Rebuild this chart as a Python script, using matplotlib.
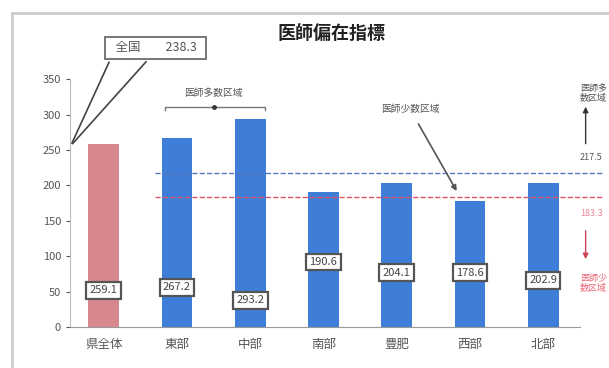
import numpy as np
import matplotlib.pyplot as plt

plt.rcParams["font.family"] = ["Noto Sans CJK JP", "DejaVu Sans"]

# ----------------------
# データ
# ----------------------
areas = ["県全体", "東部", "中部", "南部", "豊肥", "西部", "北部"]
values = [259.1, 267.2, 293.2, 190.6, 204.1, 178.6, 202.9]
label_y = [52, 56, 38, 92, 77, 77, 66]  # 数値ラベルの表示高さ
national = 238.3
upper_line = 217.5   # 医師多数区域の基準
lower_line = 183.3   # 医師少数区域の基準

bar_colors = ["#d9878e"] + ["#3f7ed8"] * (len(areas) - 1)

# ----------------------
# 描画
# ----------------------
fig = plt.figure(figsize=(6.09, 3.68), dpi=100)
ax = fig.add_axes([0.115, 0.111, 0.837, 0.674])

x = np.arange(len(areas))
ax.bar(x, values, width=0.42, color=bar_colors, zorder=2)

for xi, v, ly in zip(x, values, label_y):
    ax.text(xi, ly, f"{v:.1f}", ha="center", va="center", fontsize=8, color="#444444", zorder=4,
            bbox=dict(boxstyle="square,pad=0.3", fc="white", ec="#555555", lw=1.6))

ax.set_xlim(-0.46, 6.5)
ax.set_ylim(0, 350)
ax.set_yticks(np.arange(0, 351, 50))
ax.set_xticks(x)
ax.set_xticklabels(areas, fontsize=9, color="#555555")
ax.tick_params(axis="y", labelsize=8, colors="#555555", length=3)
ax.tick_params(axis="x", length=0, pad=8)
for s in ["top", "right"]:
    ax.spines[s].set_visible(False)
ax.spines["left"].set_color("#bbbbbb")
ax.spines["bottom"].set_color("#999999")

# 基準線
ax.plot([0.7, 6.8], [upper_line, upper_line], ls="--", color="#5577bb", lw=1, clip_on=False, zorder=3)
ax.plot([0.7, 6.8], [lower_line, lower_line], ls="--", color="#dd5566", lw=1, clip_on=False, zorder=3)

# 右側の注記
rx = 6.5
ax.text(rx, 330, "医師多\n数区域", fontsize=6.5, color="#555555", va="center", linespacing=1.1, clip_on=False)
ax.annotate("", xy=(rx + 0.08, 315), xytext=(rx + 0.08, 255),
            arrowprops=dict(arrowstyle="-|>", color="#333333", lw=1, mutation_scale=8), annotation_clip=False)
ax.text(rx, 239, f"{upper_line:.1f}", fontsize=6.5, color="#555555", va="center", clip_on=False)
ax.text(rx, 160, f"{lower_line:.1f}", fontsize=6.5, color="#ee8899", va="center", clip_on=False)
ax.annotate("", xy=(rx + 0.08, 92), xytext=(rx + 0.08, 140),
            arrowprops=dict(arrowstyle="-|>", color="#cc4455", lw=1, mutation_scale=8), annotation_clip=False)
ax.text(rx, 62, "医師少\n数区域", fontsize=6.5, color="#ee6677", va="center", linespacing=1.1, clip_on=False)

# 医師多数区域（東部・中部）
ax.text(1.5, 331, "医師多数区域", ha="center", va="center", fontsize=7, color="#555555")
ax.plot([0.83, 0.83, 2.2, 2.2], [306, 311, 311, 306], color="#777777", lw=1, clip_on=False)
ax.plot([1.5], [311], marker="o", ms=2.5, color="#333333", clip_on=False)

# 医師少数区域（西部）
ax.annotate("医師少数区域", xy=(4.82, 192), xytext=(4.18, 308), ha="center", va="center",
            fontsize=7, color="#555555",
            arrowprops=dict(arrowstyle="-|>", color="#555555", lw=1.2, mutation_scale=8,
                            shrinkA=6, shrinkB=0))

# 全国値
fig.text(0.256, 0.870, f"  全国　　{national:.1f}  ", ha="center", va="center", fontsize=9, color="#555555",
         bbox=dict(boxstyle="square,pad=0.35", fc="white", ec="#777777", lw=1.4))
for fx in [0.181, 0.243]:
    ax.annotate("", xy=(-0.45, 256), xycoords="data", xytext=(fx, 0.838), textcoords="figure fraction",
                arrowprops=dict(arrowstyle="-", color="#444444", lw=1.2), annotation_clip=False)

# タイトル
fig.text(0.545, 0.91, "医師偏在指標", ha="center", va="center", fontsize=13, fontweight="bold", color="#222222")

# 外枠
fig.add_artist(plt.Line2D([0.02, 0.02], [0.0, 0.965], color="#cccccc", lw=2, transform=fig.transFigure))
fig.add_artist(plt.Line2D([0.02, 1.0], [0.965, 0.965], color="#cccccc", lw=2, transform=fig.transFigure))

fig.savefig("out.png", dpi=100)
